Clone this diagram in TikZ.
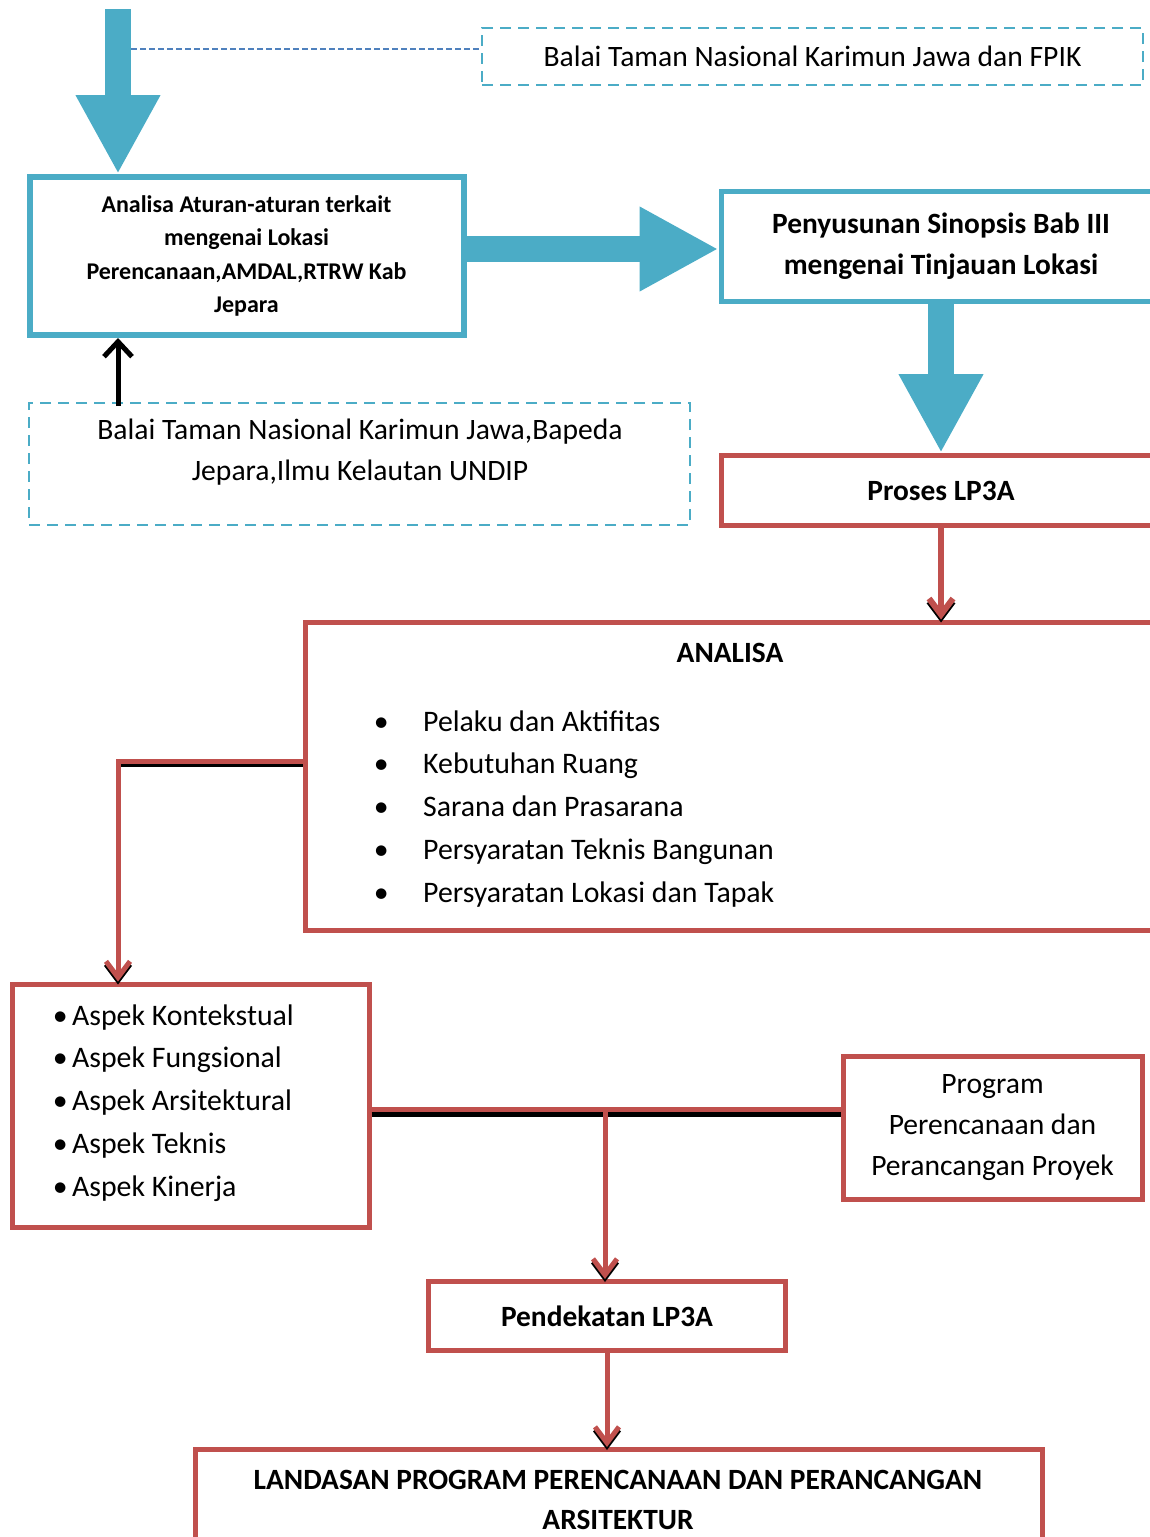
\documentclass[tikz,border=0pt]{standalone}
\usepackage{fontspec}
\setmainfont{Carlito}
\usetikzlibrary{arrows.meta,calc}
\definecolor{cblue}{HTML}{4BACC6}
\definecolor{cred}{HTML}{C0504D}
\definecolor{cdblue}{HTML}{4F81BD}
\begin{document}
\begin{tikzpicture}[x=1pt,y=-1pt,
  txt/.style={font=\fontsize{29.6}{41}\selectfont, align=center},
  btxt/.style={font=\fontsize{29.4}{41}\selectfont\bfseries, align=center},
  bluebox/.style={draw=cblue, line width=6pt, inner sep=0pt, align=center},
  redbox/.style={draw=cred, line width=5pt, inner sep=0pt, align=center},
  dashbox/.style={draw=cblue, line width=2.2pt, dash pattern=on 11pt off 7pt, inner sep=0pt, align=center},
  blockarrow/.style={draw=cblue, line width=26pt, -{Triangle[length=79pt,width=79pt]}},
  redconn/.style={draw=cred, line width=5pt, -{Straight Barb[length=16pt,width=24pt]}},
  shadowconn/.style={draw=black, line width=5pt, -{Straight Barb[length=16pt,width=24pt]}},
  listitem/.style={font=\fontsize{29.8}{41}\selectfont, anchor=base west, inner sep=0pt}
]
\useasboundingbox (0,0) rectangle (1150,1537);

% boxes
\node[dashbox, minimum width=661pt, minimum height=57pt, txt] (box1) at (812.5,56.5) {Balai Taman Nasional Karimun Jawa dan FPIK};
\node[bluebox, minimum width=434pt, minimum height=158pt, font=\fontsize{24}{33.3}\selectfont\bfseries] (analisa) at (246.5,256) {Analisa Aturan-aturan terkait\\mengenai Lokasi\\Perencanaan,AMDAL,RTRW Kab\\Jepara};
\node[bluebox, line width=5pt, minimum width=440pt, minimum height=110pt, btxt] (pen) at (941,246.5) {Penyusunan Sinopsis Bab III\\mengenai Tinjauan Lokasi};
\node[dashbox, minimum width=661pt, minimum height=122pt] (box2) at (359.5,464) {};
\node[txt] (box2text) at (360,452.5) {Balai Taman Nasional Karimun Jawa,Bapeda\\Jepara,Ilmu Kelautan UNDIP};
\node[redbox, minimum width=440pt, minimum height=70pt, btxt] (proses) at (941,490.5) {Proses LP3A};
\node[redbox, minimum width=850pt, minimum height=308pt] (anbox) at (730,776) {};
\node[btxt] (antitle) at (730,653) {ANALISA};
\foreach \t [count=\i from 0] in {Pelaku dan Aktifitas, Kebutuhan Ruang, Sarana dan Prasarana, Persyaratan Teknis Bangunan, Persyaratan Lokasi dan Tapak}
  \node[listitem] (an\i) at (339,{731+42.75*\i}) {\makebox[84pt][c]{\textbullet}\t};
\node[redbox, minimum width=357pt, minimum height=243pt] (aspek) at (190.5,1105.5) {};
\foreach \t [count=\i from 0] in {Aspek Kontekstual, Aspek Fungsional, Aspek Arsitektural, Aspek Teknis, Aspek Kinerja}
  \node[listitem] (as\i) at (48,{1025+42.75*\i}) {\makebox[24pt][c]{\textbullet}\t};
\node[redbox, minimum width=299pt, minimum height=143pt, txt] (program) at (992.5,1127.5) {Program\\Perencanaan dan\\Perancangan Proyek};
\node[redbox, minimum width=357pt, minimum height=69pt, btxt] (pend) at (607,1316) {Pendekatan LP3A};
\node[redbox, minimum width=847pt, minimum height=160pt] (land) at (618.5,1529.5) {};
\node[btxt, font=\fontsize{29.4}{40}\selectfont\bfseries] (landtext) at (618,1500) {LANDASAN PROGRAM PERENCANAAN DAN PERANCANGAN\\ARSITEKTUR};

% blue connectors
\coordinate (topstart) at (118,9);
\draw[blockarrow] (topstart) -- (analisa.north -| topstart);
\coordinate (dl) at (131,49);
\draw[cdblue, line width=1.5pt, dash pattern=on 6pt off 3pt] (dl) -- (box1.west |- dl);
\coordinate (a2) at (600,249);
\draw[blockarrow] (analisa.east |- a2) -- (pen.west |- a2);
\draw[blockarrow] (pen.south) -- (proses.north);

% black arrow
\coordinate (barb) at (118,406);
\draw[black, line width=5pt, -{Straight Barb[length=15pt,width=28pt]}] (barb) -- (analisa.south -| barb);

% red connectors
\coordinate (k1) at (118,761.5);
\coordinate (k2) at (605,1109.5);
\begin{scope}[transform canvas={yshift=-3pt}]
  \draw[shadowconn, line width=6pt] (proses.south) -- (anbox.north -| proses.south);
  \draw[shadowconn] (anbox.west |- k1) -- (k1) -- (aspek.north -| k1);
  \draw[shadowconn] (k2) -- (pend.north -| k2);
  \draw[shadowconn] (pend.south) -- (land.north -| pend.south);
\end{scope}
\begin{scope}[transform canvas={yshift=-4.5pt}]
  \draw[shadowconn, -] (aspek.east |- k2) -- (program.west |- k2);
\end{scope}
\draw[redconn, line width=6pt] (proses.south) -- (anbox.north -| proses.south);
\draw[redconn] (anbox.west |- k1) -- (k1) -- (aspek.north -| k1);
\draw[redconn, -] (aspek.east |- k2) -- (program.west |- k2);
\draw[redconn] (k2) -- (pend.north -| k2);
\draw[redconn] (pend.south) -- (land.north -| pend.south);
\end{tikzpicture}
\end{document}
